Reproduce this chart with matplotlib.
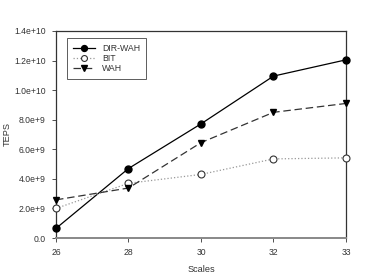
import matplotlib
matplotlib.use("Agg")
import matplotlib.pyplot as plt

plt.rcParams['font.family'] = ['Liberation Sans', 'DejaVu Sans']

scales = ["26", "28", "30", "32", "33"]
dir_wah = [0.65e9, 4.7e9, 7.72e9, 10.95e9, 12.05e9]
bit = [2.0e9, 3.7e9, 4.3e9, 5.35e9, 5.42e9]
wah = [2.58e9, 3.38e9, 6.45e9, 8.5e9, 9.1e9]
yticks = [0, 2e9, 4e9, 6e9, 8e9, 1e10, 1.2e10, 1.4e10]
ytick_labels = ["0.0", "2.0e+9", "4.0e+9", "6.0e+9", "8.0e+9", "1.0e+10", "1.2e+10", "1.4e+10"]

W, H = 374, 276
fig = plt.figure(figsize=(W/100, H/100), dpi=100)
ax = fig.add_axes([56/W, 1-238/H, (346-56)/W, (238-31)/H])

x = list(range(len(scales)))
ax.plot(x, dir_wah, color='black', lw=0.9, ls='-', marker='o', ms=5,
        mfc='black', mec='black', label='DIR-WAH', clip_on=False, zorder=3)
ax.plot(x, bit, color='#999999', lw=0.9, ls=':', marker='o', ms=5,
        mfc='white', mec='#333333', mew=0.8, label='BIT', clip_on=False, zorder=3)
ax.plot(x, wah, color='#333333', lw=0.9, ls=(0, (6, 3)), marker='v', ms=5,
        mfc='black', mec='black', label='WAH', clip_on=False, zorder=3)

ax.set_xlim(0, len(scales)-1)
ax.set_ylim(0, 1.4e10)
ax.set_xticks(x)
ax.set_xticklabels(scales)
ax.set_yticks(yticks)
ax.set_yticklabels(ytick_labels)
ax.tick_params(axis='both', direction='out', length=3, width=0.6,
               labelsize=6.2, colors='#333333', labelcolor='#333333')
ax.tick_params(axis='y', pad=4.5)
ax.tick_params(axis='x', pad=4.5)
for s in ['left', 'top', 'right']:
    ax.spines[s].set_color('#333333')
    ax.spines[s].set_linewidth(0.9)
ax.spines['bottom'].set_color('#888888')
ax.spines['bottom'].set_linewidth(1.4)

ax.set_xlabel('Scales', fontsize=6.6, color='#333333')
ax.set_ylabel('TEPS', fontsize=6.6, color='#333333')
ax.xaxis.set_label_coords(0.5, -(269-238)/(238-31), transform=ax.transAxes)
ax.yaxis.set_label_coords(-(56-7)/(346-56), 0.5, transform=ax.transAxes)
ax.yaxis.label.set_verticalalignment('center')
ax.xaxis.label.set_verticalalignment('center')

leg = ax.legend(loc='upper left', bbox_to_anchor=(11/290, 1-7/207), fontsize=6.3,
                frameon=True, fancybox=False, edgecolor='#333333',
                handlelength=2.5, borderpad=0.7, labelspacing=0.1,
                handletextpad=0.8, borderaxespad=0.0, markerscale=0.85)
leg.get_frame().set_linewidth(0.7)
for t in leg.get_texts():
    t.set_color('#333333')

fig.savefig('out.png', dpi=100)
